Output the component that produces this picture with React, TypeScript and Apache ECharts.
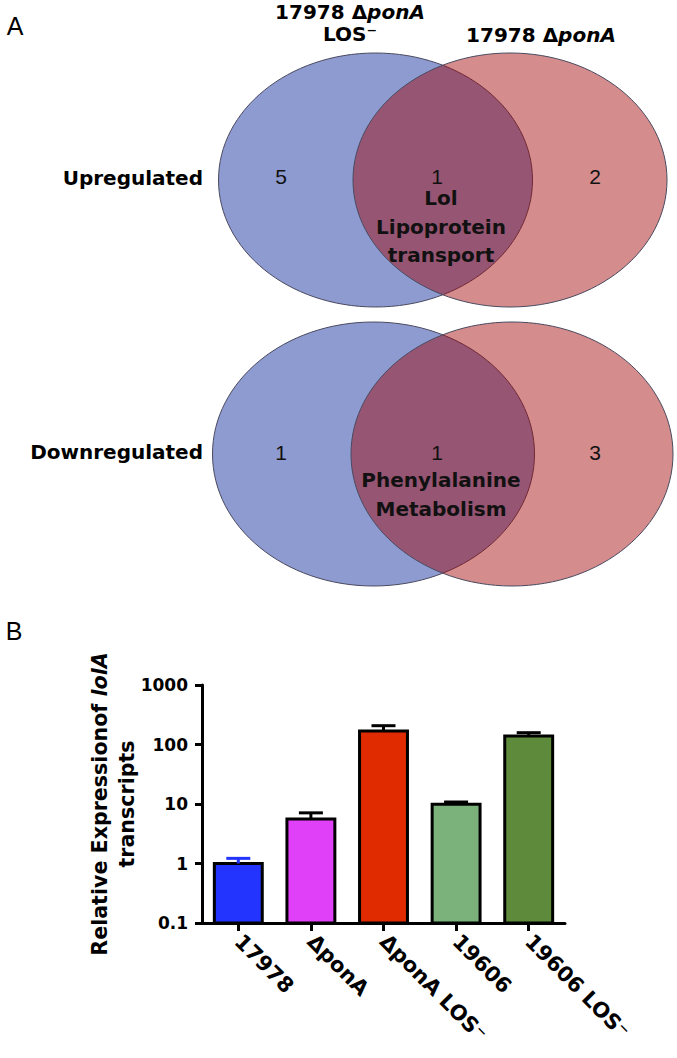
import React, { useEffect, useRef } from "react";
import * as echarts from "echarts";

// ---------- data ----------
const vennSetNames = ["17978 Δ{i|ponA}", "17978 Δ{i|ponA}"];
const vennSetSuffix = ["LOS⁻", ""];
const vennRows = ["Upregulated", "Downregulated"];
const upregCounts = [5, 1, 2]; // left only, shared, right only
const downregCounts = [1, 1, 3];
const upregShared = ["Lol", "Lipoprotein", "transport"];
const downregShared = ["Phenylalanine", "Metabolism"];

const strains = ["17978", "ΔponA", "ΔponA LOS⁻", "19606", "19606 LOS⁻"];
const expression = [1.0, 5.6, 169, 9.9, 139];
const errorUpper = [1.22, 7.1, 207, 10.8, 158];
const yTickLabels = ["0.1", "1", "10", "100", "1000"];

// ---------- styles ----------
const barColors = ["#2334ff", "#e040f7", "#e02b00", "#7bb27b", "#5e8a3b"];
const errColors = ["#2334ff", "#000000", "#000000", "#000000", "#000000"];
const BOLD = "DejaVu Sans";
const PLAIN = "Liberation Sans";

const W = 677;
const H = 1058;
const axisLeft = 202;
const axisRight = 565;
const axisTop = 685;
const axisBottom = 923;

function buildOption() {
  const blueFill = "#8e9bd0";
  const redFill = "rgba(160,0,0,0.45)";
  const outline = "#4a4a60";
  const venn = [
    { cy: 180, lx: 375.5, rx0: 510, rx: 157, ry: 127, counts: upregCounts, shared: upregShared, numY: 176, sharedY: 198 },
    { cy: 454, lx: 373.5, rx0: 512, rx: 161, ry: 132, counts: downregCounts, shared: downregShared, numY: 452, sharedY: 480 },
  ];
  const graphics: any[] = [];
  venn.forEach((v, k) => {
    graphics.push({
      type: "ellipse",
      shape: { cx: v.lx, cy: v.cy, rx: v.rx, ry: v.ry },
      style: { fill: blueFill, stroke: outline, lineWidth: 1 },
      silent: true,
    });
    graphics.push({
      type: "ellipse",
      shape: { cx: v.rx0, cy: v.cy, rx: v.rx, ry: v.ry },
      style: { fill: redFill, stroke: outline, lineWidth: 1 },
      silent: true,
    });
    const numX = [281, 437, 595];
    v.counts.forEach((c, j) => {
      graphics.push({
        type: "text",
        x: numX[j],
        y: v.numY,
        style: { text: String(c), fontFamily: PLAIN, fontSize: 21, fill: "#111", align: "center", verticalAlign: "middle" },
      });
    });
    graphics.push({
      type: "text",
      x: 441,
      y: v.sharedY - 14,
      style: {
        text: v.shared.join("\n"),
        fontFamily: BOLD,
        fontWeight: "bold",
        fontSize: 20,
        lineHeight: 28.5,
        fill: "#111",
        align: "center",
        verticalAlign: "top",
      },
    });
    graphics.push({
      type: "text",
      x: 203,
      y: v.cy - 2,
      style: {
        text: vennRows[k],
        fontFamily: BOLD,
        fontWeight: "bold",
        fontSize: 20,
        fill: "#000",
        align: "right",
        verticalAlign: "middle",
      },
    });
  });
  const italicRich = { i: { fontFamily: BOLD, fontWeight: "bold", fontStyle: "italic", fontSize: 20, fill: "#000" } };
  graphics.push({
    type: "text",
    x: 350,
    y: 1,
    style: {
      text: vennSetNames[0] + "\n" + vennSetSuffix[0],
      rich: italicRich,
      fontFamily: BOLD,
      fontWeight: "bold",
      fontSize: 20,
      lineHeight: 22,
      fill: "#000",
      align: "center",
      verticalAlign: "top",
    },
  });
  graphics.push({
    type: "text",
    x: 541,
    y: 35,
    style: {
      text: vennSetNames[1],
      rich: italicRich,
      fontFamily: BOLD,
      fontWeight: "bold",
      fontSize: 20,
      fill: "#000",
      align: "center",
      verticalAlign: "middle",
    },
  });
  // panel letters
  graphics.push({ type: "text", x: 15, y: 26, style: { text: "A", fontFamily: PLAIN, fontSize: 25, fill: "#000", align: "center", verticalAlign: "middle" } });
  graphics.push({ type: "text", x: 14, y: 631, style: { text: "B", fontFamily: PLAIN, fontSize: 25, fill: "#000", align: "center", verticalAlign: "middle" } });
  // y axis title
  const titleRich = { i: { fontFamily: BOLD, fontWeight: "bold", fontStyle: "italic", fontSize: 20.6, fill: "#000" } };
  graphics.push({
    type: "text",
    x: 113,
    y: (axisTop + axisBottom) / 2,
    rotation: Math.PI / 2,
    style: {
      text: "Relative Expressionof {i|lolA}\ntranscripts",
      rich: titleRich,
      fontFamily: BOLD,
      fontWeight: "bold",
      fontSize: 20.6,
      lineHeight: 27,
      fill: "#000",
      align: "center",
      verticalAlign: "middle",
    },
  });

  return {
    animation: false,
    backgroundColor: "#ffffff",
    graphic: graphics,
    grid: { left: axisLeft, right: W - axisRight, top: axisTop, bottom: H - axisBottom, containLabel: false },
    xAxis: {
      type: "category",
      data: strains,
      boundaryGap: true,
      axisLine: { show: true, lineStyle: { color: "#000", width: 3 } },
      axisTick: { show: true, alignWithLabel: true, length: 8, lineStyle: { color: "#000", width: 3 } },
      axisLabel: {
        interval: 0,
        rotate: -45,
        margin: 15,
        color: "#000",
        fontFamily: BOLD,
        fontWeight: "bold",
        fontSize: 21,
      },
      splitLine: { show: false },
    },
    yAxis: {
      type: "log",
      logBase: 10,
      min: 0.1,
      max: 1000,
      axisLine: { show: true, lineStyle: { color: "#000", width: 3 } },
      axisTick: { show: true, length: 7, lineStyle: { color: "#000", width: 3 } },
      splitLine: { show: false },
      axisLabel: {
        margin: 14,
        color: "#000",
        fontFamily: BOLD,
        fontWeight: "bold",
        fontSize: 17,
        formatter: (v: number) => {
          const hit = yTickLabels.find((l) => Math.abs(Math.log10(parseFloat(l)) - Math.log10(v)) < 1e-6);
          return hit || "";
        },
      },
    },
    series: [
      {
        type: "custom",
        z: 2,
        encode: { x: 0, y: 1 },
        data: expression.map((v, i) => [i, v]),
        renderItem: (params: any, api: any) => {
          const i = params.dataIndex;
          const top = api.coord([api.value(0), api.value(1)]);
          const base = api.coord([api.value(0), 0.1]);
          const band = api.coord([1, 1])[0] - api.coord([0, 1])[0];
          const bw = band * 0.66;
          return {
            type: "rect",
            shape: { x: top[0] - bw / 2, y: top[1], width: bw, height: base[1] - top[1] },
            style: { fill: barColors[i], stroke: "#000", lineWidth: 3 },
          };
        },
      },
      {
        type: "custom",
        z: 3,
        encode: { x: 0, y: 2 },
        data: expression.map((v, i) => [i, v, errorUpper[i]]),
        renderItem: (params: any, api: any) => {
          const i = params.dataIndex;
          const start = api.coord([api.value(0), api.value(1)]);
          const end = api.coord([api.value(0), api.value(2)]);
          const half = 12;
          return {
            type: "group",
            children: [
              { type: "line", shape: { x1: end[0], y1: start[1], x2: end[0], y2: end[1] }, style: { stroke: errColors[i], lineWidth: 3 } },
              { type: "line", shape: { x1: end[0] - half, y1: end[1], x2: end[0] + half, y2: end[1] }, style: { stroke: errColors[i], lineWidth: 3 } },
            ],
          };
        },
      },
    ],
  };
}

export default function App() {
  const ref = useRef<HTMLDivElement>(null);
  useEffect(() => {
    if (!ref.current) return;
    const chart = echarts.init(ref.current, undefined, { renderer: "svg" });
    chart.setOption(buildOption() as any);
    return () => chart.dispose();
  }, []);
  return <div ref={ref} style={{ position: "absolute", left: 0, top: 0, width: W, height: H, background: "#fff" }} />;
}
